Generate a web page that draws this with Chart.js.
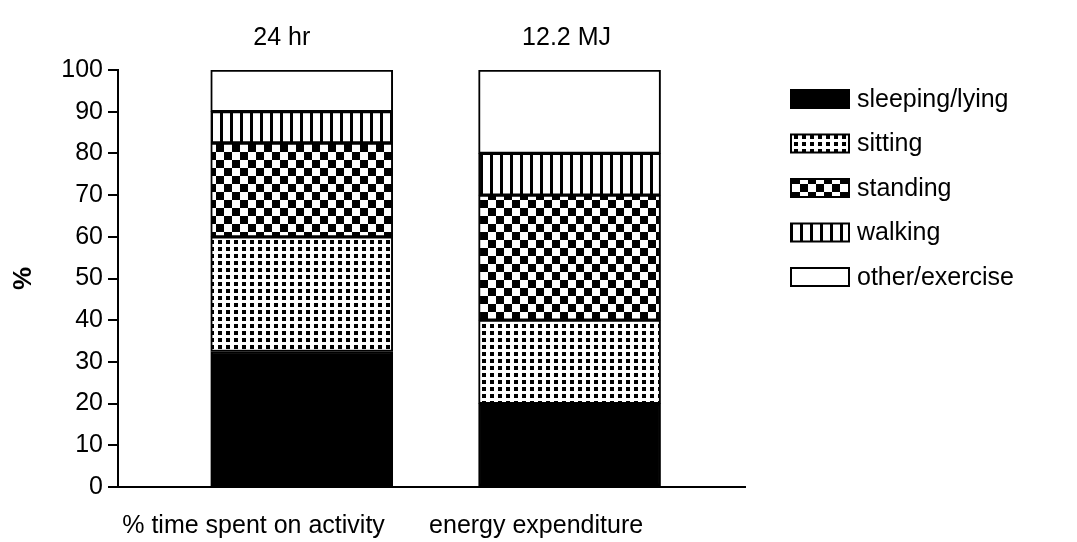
<!DOCTYPE html>
<html>
<head>
<meta charset="utf-8">
<script src="https://cdn.jsdelivr.net/npm/chart.js@4.4.0/dist/chart.umd.min.js"></script>
<style>
  body { margin: 0; background: #fff; }
  #box { width: 1077px; height: 542px; }
</style>
</head>
<body>
<div id="box"><canvas id="grafico"></canvas></div>
<script>
// dados
const barras = ['% time spent on activity', 'energy expenditure'];
const topo = ['24 hr', '12.2 MJ'];
const atividades = ['sleeping/lying', 'sitting', 'standing', 'walking', 'other/exercise'];
const sleeping = [32.5, 20];
const sitting = [27.5, 20];
const standing = [22.5, 30];
const walking = [7.5, 10];
const other = [10, 20];
const yTicks = [0, 10, 20, 30, 40, 50, 60, 70, 80, 90, 100];

const FONTE = '"Liberation Sans", Arial, sans-serif';

// padroes de preenchimento (hachuras)
function padrao(w, h, desenha) {
  const c = document.createElement('canvas');
  c.width = w; c.height = h;
  const g = c.getContext('2d');
  g.fillStyle = '#fff';
  g.fillRect(0, 0, w, h);
  g.fillStyle = '#000';
  desenha(g);
  return g.createPattern(c, 'repeat');
}
const pontos = padrao(8, 7, g => g.fillRect(2, 2, 4, 4));
const xadrez = padrao(16, 16, g => {
  g.fillRect(0, 0, 16, 16);
  g.fillStyle = '#fff';
  g.fillRect(0, 0, 8, 8);
  g.fillRect(8, 8, 8, 8);
});
const listras = padrao(10, 4, g => g.fillRect(0, 0, 3, 4));

const series = [sleeping, sitting, standing, walking, other];
const fundos = ['#000', pontos, xadrez, listras, '#fff'];

const datasets = atividades.map((nome, i) => ({
  label: nome,
  data: series[i].map((v, k) => ({ x: k, y: v })),
  backgroundColor: fundos[i],
  borderColor: '#000',
  borderWidth: 2,
  borderSkipped: false,
  barThickness: 182,
}));

// posicao dos rotulos do eixo x (um pouco a esquerda das barras, como no original)
const posRotulos = [-0.18, 0.875];
const ajusteTopo = [-20, -3];

const rotulosTopo = {
  id: 'rotulosTopo',
  afterDatasetsDraw(chart) {
    const { ctx, scales } = chart;
    ctx.save();
    ctx.font = '25px ' + FONTE;
    ctx.fillStyle = '#000';
    ctx.textAlign = 'center';
    ctx.textBaseline = 'middle';
    topo.forEach((t, i) => ctx.fillText(t, scales.x.getPixelForValue(i) + ajusteTopo[i], 38));
    ctx.restore();
  }
};

const legenda = {
  id: 'legenda',
  afterDraw(chart) {
    const { ctx } = chart;
    ctx.save();
    ctx.font = '25px ' + FONTE;
    ctx.textBaseline = 'middle';
    chart.data.datasets.forEach((ds, i) => {
      const y = 99 + i * 44.5;
      ctx.fillStyle = ds.backgroundColor;
      ctx.fillRect(791, y - 9, 58, 18);
      ctx.strokeStyle = '#000';
      ctx.lineWidth = 2;
      ctx.strokeRect(791, y - 9, 58, 18);
      ctx.fillStyle = '#000';
      ctx.fillText(ds.label, 857, y + 1);
    });
    ctx.restore();
  }
};

new Chart(document.getElementById('grafico'), {
  type: 'bar',
  data: { datasets: datasets },
  options: {
    responsive: true,
    maintainAspectRatio: false,
    animation: false,
    layout: { padding: { left: 0, top: 70, right: 332, bottom: 0 } },
    plugins: {
      legend: { display: false },
      tooltip: { enabled: false },
    },
    scales: {
      x: {
        type: 'linear',
        stacked: true,
        offset: false,
        min: -0.686,
        max: 1.655,
        afterBuildTicks: axis => { axis.ticks = posRotulos.map(v => ({ value: v })); },
        afterFit: axis => { axis.height = 55; },
        ticks: {
          callback: (v, i) => barras[i],
          color: '#000',
          font: { family: FONTE, size: 25 },
          maxRotation: 0,
          autoSkip: false,
          padding: 24,
        },
        grid: { display: false, drawTicks: false },
        border: { color: '#000', width: 2 },
      },
      y: {
        stacked: true,
        min: 0,
        max: 100,
        afterBuildTicks: axis => { axis.ticks = yTicks.map(v => ({ value: v })); },
        afterFit: axis => { axis.width = 118; },
        ticks: {
          color: '#000',
          font: { family: FONTE, size: 25 },
          padding: 5,
        },
        grid: { display: true, drawOnChartArea: false, drawTicks: true, tickLength: 10, color: '#000', lineWidth: 2 },
        border: { color: '#000', width: 2 },
        title: {
          display: true,
          text: '%',
          color: '#000',
          font: { family: FONTE, size: 26, weight: 'bold' },
          padding: { top: 8, bottom: 0 },
        },
      },
    },
  },
  plugins: [rotulosTopo, legenda],
});
</script>
</body>
</html>
